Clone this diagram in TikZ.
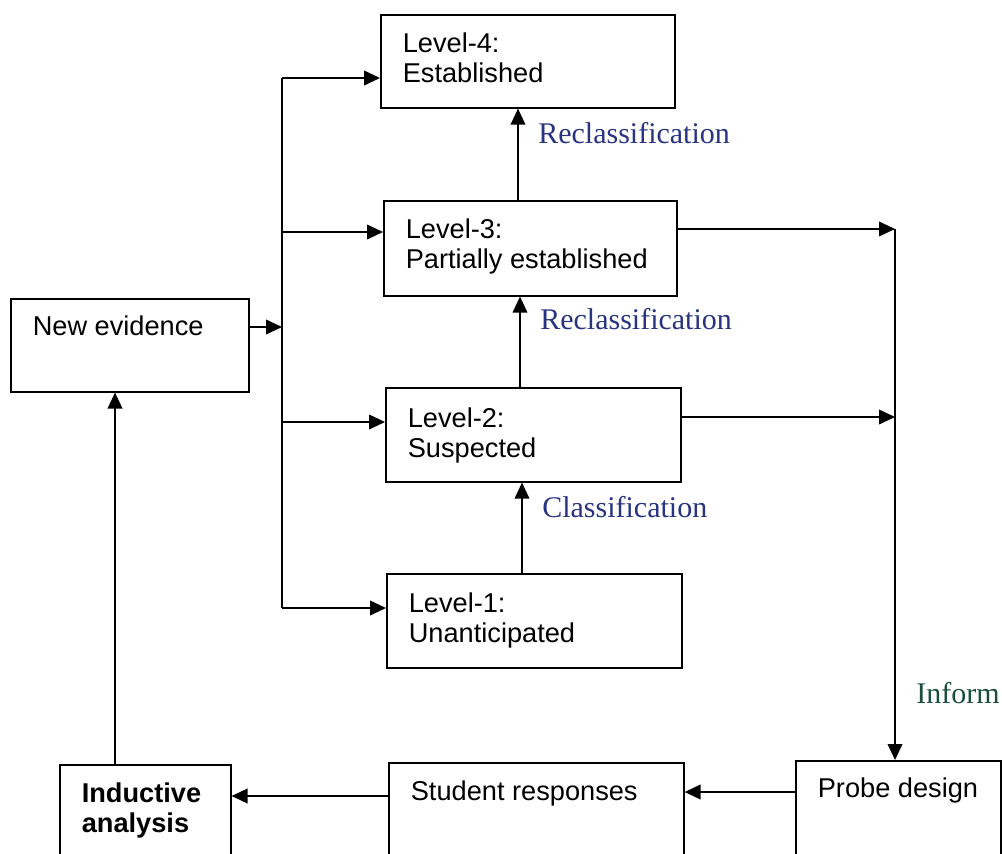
\documentclass[tikz,border=0pt]{standalone}
\usepackage{fontspec}
\setmainfont{Liberation Sans}
\newfontfamily\lblfont{Liberation Serif}
\usetikzlibrary{arrows.meta}
\definecolor{lblblue}{RGB}{40,52,128}
\definecolor{lblgreen}{RGB}{28,78,62}
\newcommand{\boxtext}[2]{\parbox[t]{#1}{\raggedright #2}}
\begin{document}
\begin{tikzpicture}[x=0.75pt,y=-0.75pt,
  stage/.style={draw, line width=1.2pt, inner xsep=16.5pt, inner ysep=0pt,
    anchor=north west, font=\fontsize{20.4}{22.5}\selectfont},
  arr/.style={line width=1.3pt, -{Triangle[length=12pt,width=11pt]}},
  thinarr/.style={line width=1pt, -{Triangle[length=12pt,width=11pt]}},
  line/.style={line width=1.3pt},
  lbl/.style={anchor=base west, inner sep=0pt, font=\lblfont\fontsize{22.5}{27}\selectfont}]
\clip (0,0) rectangle (1002,853);
% boxes
\node[stage, text height=28.5pt, text depth=41.25pt] (L4) at (380,14)
  {\boxtext{187.5pt}{Level-4:\\Established}};
\node[stage, text height=28.5pt, text depth=42.75pt] (L3) at (383,200)
  {\boxtext{186.75pt}{Level-3:\\Partially established}};
\node[stage, text height=30pt, text depth=40.5pt] (L2) at (385,387)
  {\boxtext{188.25pt}{Level-2:\\Suspected}};
\node[stage, text height=29.25pt, text depth=41.25pt] (L1) at (386,573)
  {\boxtext{188.25pt}{Level-1:\\Unanticipated}};
\node[stage, text height=27.75pt, text depth=42pt] (NE) at (10,298)
  {\boxtext{145.5pt}{New evidence}};
\node[stage, text height=28.5pt, text depth=75pt] (IA) at (59,764)
  {\boxtext{95.25pt}{\bfseries Inductive\\analysis}};
\node[stage, text height=28.5pt, text depth=75pt] (SR) at (388,762)
  {\boxtext{188.25pt}{Student responses}};
\node[stage, text height=27.75pt, text depth=75pt] (PD) at (795,760)
  {\boxtext{120.75pt}{Probe design}};
% left bus
\coordinate (b4) at (282,78);
\coordinate (b3) at (282,232);
\coordinate (bn) at (282,327);
\coordinate (b2) at (282,422);
\coordinate (b1) at (282,608);
\draw[line] (b4) -- (b1);
\draw[arr] (NE.east |- bn) -- (bn);
\draw[arr] (b4) -- (L4.west |- b4);
\draw[arr] (b3) -- (L3.west |- b3);
\draw[arr] (b2) -- (L2.west |- b2);
\draw[arr] (b1) -- (L1.west |- b1);
% right bus
\coordinate (r3) at (895,229);
\coordinate (r2) at (895,417);
\draw[arr] (L3.east |- r3) -- (r3);
\draw[arr] (L2.east |- r2) -- (r2);
\draw[line] (r3) -- (r2);
\draw[arr] (r2) -- (r2 |- PD.north);
% level transitions
\coordinate (x12) at (522,0);
\coordinate (x23) at (520,0);
\coordinate (x34) at (518,0);
\draw[thinarr] (L1.north -| x12) -- (L2.south -| x12);
\draw[thinarr] (L2.north -| x23) -- (L3.south -| x23);
\draw[thinarr] (L3.north -| x34) -- (L4.south -| x34);
% bottom row
\coordinate (yps) at (0,792);
\coordinate (ysi) at (0,796);
\coordinate (xin) at (115,0);
\draw[arr] (PD.west |- yps) -- (SR.east |- yps);
\draw[arr] (SR.west |- ysi) -- (IA.east |- ysi);
\draw[arr] (IA.north -| xin) -- (NE.south -| xin);
% labels
\node[lbl, text=lblblue] (t1) at (538,143) {Reclassification};
\node[lbl, text=lblblue] (t2) at (540,329) {Reclassification};
\node[lbl, text=lblblue] (t3) at (542,517) {Classification};
\node[lbl, text=lblgreen] (t4) at (916,703) {Inform};
\end{tikzpicture}
\end{document}
